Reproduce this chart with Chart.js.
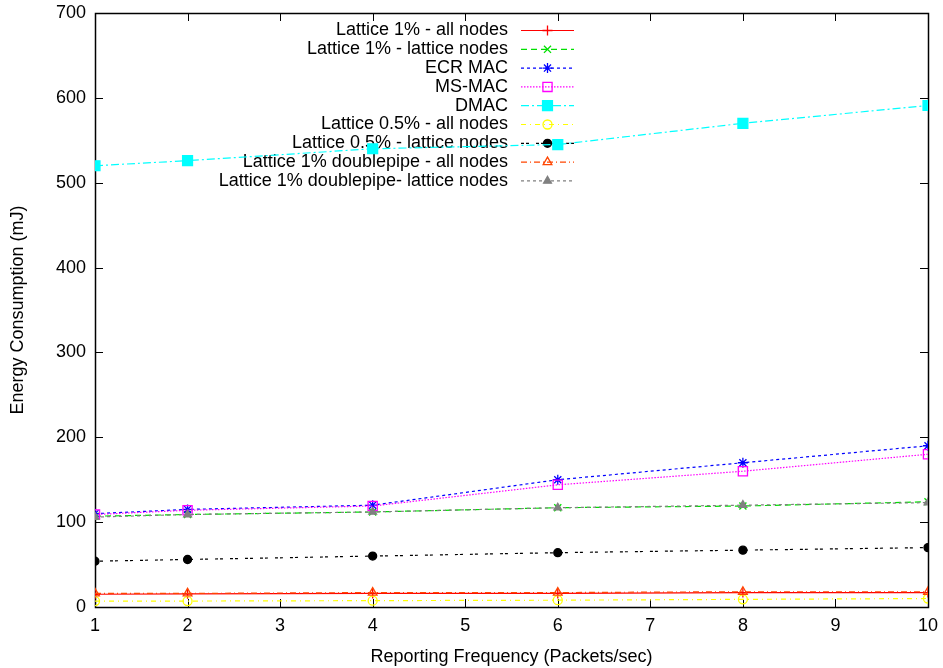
<!DOCTYPE html>
<html>
<head>
<meta charset="utf-8">
<script src="https://cdn.jsdelivr.net/npm/chart.js@4.4.1/dist/chart.umd.min.js"></script>
<style>
  html, body { margin: 0; padding: 0; background: #fff; }
  #wrap { width: 943px; height: 668px; }
</style>
</head>
<body>
<div id="wrap"><canvas id="energyChart" width="943" height="668"></canvas></div>
<script>
// Reporting frequency (packets/sec)
const frequencies = [1, 2, 4, 6, 8, 10];

// Energy consumption (mJ)
const lattice1All = [15, 15.5, 16, 16, 17, 17];
const lattice1Lattice = [107, 109, 112, 117, 119, 124];
const ecrMac = [110, 115, 120, 150, 170, 190];
const msMac = [109, 114, 119, 144, 160, 180];
const dmac = [520, 526, 540, 545, 570, 591];
const lattice05All = [7, 7, 7.5, 8, 9, 10];
const lattice05Lattice = [54, 56, 60, 64, 67, 70];
const doublepipeAll = [16, 16, 17, 17, 18, 18];
const doublepipeLattice = [106, 109, 112, 117, 120, 123];

const yTicks = [0, 100, 200, 300, 400, 500, 600, 700];
const xTicks = [1, 2, 3, 4, 5, 6, 7, 8, 9, 10];

const FONT = 'Liberation Sans, Arial, Helvetica, sans-serif';

function series(label, values, color, dash, style, radius, filled) {
    return {
        label: label,
        data: frequencies.map((f, i) => ({ x: f, y: values[i] })),
        borderColor: color,
        backgroundColor: filled ? color : 'rgba(0,0,0,0)',
        pointBorderColor: color,
        pointBackgroundColor: filled ? color : 'rgba(0,0,0,0)',
        borderWidth: 1.2,
        borderDash: dash,
        pointStyle: style,
        pointRadius: radius,
        pointBorderWidth: 1.3,
        fill: false,
        tension: 0
    };
}

const datasets = [
    series('Lattice 1% - all nodes', lattice1All, '#ff0000', [], 'cross', 5, false),
    series('Lattice 1% - lattice nodes', lattice1Lattice, '#00e000', [6, 4], 'crossRot', 5, false),
    series('ECR MAC', ecrMac, '#0000ff', [3, 3], 'star', 5, false),
    series('MS-MAC', msMac, '#ff00ff', [1.5, 1.5], 'rect', 6.5, false),
    series('DMAC', dmac, '#00ffff', [8, 3, 2, 3], 'rect', 7, true),
    series('Lattice 0.5% - all nodes', lattice05All, '#ffff00', [5, 4, 1, 4], 'circle', 4.5, false),
    series('Lattice 0.5% - lattice nodes', lattice05Lattice, '#000000', [3, 2, 3, 7], 'circle', 4, true),
    series('Lattice 1% doublepipe - all nodes', doublepipeAll, '#ff4500', [6, 3, 1, 3], 'triangle', 5, false),
    series('Lattice 1% doublepipe- lattice nodes', doublepipeLattice, '#808080', [3, 3], 'triangle', 4.5, true)
];
// later series are drawn on top, like the original plot
datasets.forEach((d, i) => { d.order = datasets.length - i; });

const frameAndKey = {
    id: 'frameAndKey',
    beforeDatasetsDraw(chart) {
        const ctx = chart.ctx;
        const a = chart.chartArea;
        const xs = chart.scales.x, ys = chart.scales.y;
        ctx.save();
        ctx.strokeStyle = '#000';
        ctx.lineWidth = 1;
        ctx.setLineDash([]);
        ctx.beginPath();
        // inward ticks on all four sides
        xTicks.forEach(v => {
            const px = Math.round(xs.getPixelForValue(v)) + 0.5;
            ctx.moveTo(px, a.bottom); ctx.lineTo(px, a.bottom - 8);
            ctx.moveTo(px, a.top); ctx.lineTo(px, a.top + 8);
        });
        yTicks.forEach(v => {
            const py = Math.round(ys.getPixelForValue(v)) + 0.5;
            ctx.moveTo(a.left, py); ctx.lineTo(a.left + 8, py);
            ctx.moveTo(a.right, py); ctx.lineTo(a.right - 8, py);
        });
        ctx.stroke();
        ctx.lineWidth = 1.5;
        ctx.strokeRect(Math.round(a.left) + 0.5, Math.round(a.top) + 0.5,
            Math.round(a.right - a.left), Math.round(a.bottom - a.top));

        // key, gnuplot style: right-aligned text, sample line with marker
        ctx.font = '18px ' + FONT;
        ctx.textAlign = 'right';
        ctx.textBaseline = 'middle';
        datasets.forEach((d, i) => {
            const y = 30.5 + i * 18.8;
            ctx.fillStyle = '#000';
            ctx.fillText(d.label, 508, y);
            ctx.strokeStyle = d.borderColor;
            ctx.lineWidth = d.borderWidth;
            ctx.setLineDash(d.borderDash);
            ctx.beginPath();
            ctx.moveTo(521, y); ctx.lineTo(574, y);
            ctx.stroke();
            ctx.setLineDash([]);
            const opts = {
                pointStyle: d.pointStyle, radius: d.pointRadius, rotation: 0,
                borderWidth: d.pointBorderWidth
            };
            ctx.fillStyle = d.pointBackgroundColor;
            ctx.strokeStyle = d.pointBorderColor;
            ctx.lineWidth = d.pointBorderWidth;
            Chart.helpers.drawPoint(ctx, opts, 547.5, y);
        });
        ctx.restore();
    }
};

Chart.defaults.font.family = FONT;
Chart.defaults.color = '#000';

new Chart(document.getElementById('energyChart'), {
    type: 'line',
    data: { datasets: datasets },
    options: {
        responsive: false,
        animation: false,
        layout: { padding: { left: 0, right: 15, top: 13, bottom: 0 } },
        plugins: { legend: { display: false }, tooltip: { enabled: false } },
        scales: {
            x: {
                type: 'linear',
                min: 1, max: 10,
                afterFit: s => { s.height = 61; s.paddingLeft = 0; s.paddingRight = 0; },
                afterBuildTicks: s => { s.ticks = xTicks.map(v => ({ value: v })); },
                grid: { display: false, drawTicks: false },
                border: { display: false },
                ticks: { padding: 8, font: { size: 18 }, maxRotation: 0, autoSkip: false },
                title: { display: true, text: 'Reporting Frequency (Packets/sec)', font: { size: 18 }, padding: { top: 4, bottom: 0 } }
            },
            y: {
                type: 'linear',
                min: 0, max: 700,
                afterFit: s => { s.width = 95; s.paddingTop = 0; s.paddingBottom = 0; },
                afterBuildTicks: s => { s.ticks = yTicks.map(v => ({ value: v })); },
                grid: { display: false, drawTicks: false },
                border: { display: false },
                ticks: { padding: 9, font: { size: 18 } },
                title: { display: true, text: 'Energy Consumption (mJ)', font: { size: 18 }, padding: { top: 7, bottom: 0 } }
            }
        }
    },
    plugins: [frameAndKey]
});
</script>
</body>
</html>
